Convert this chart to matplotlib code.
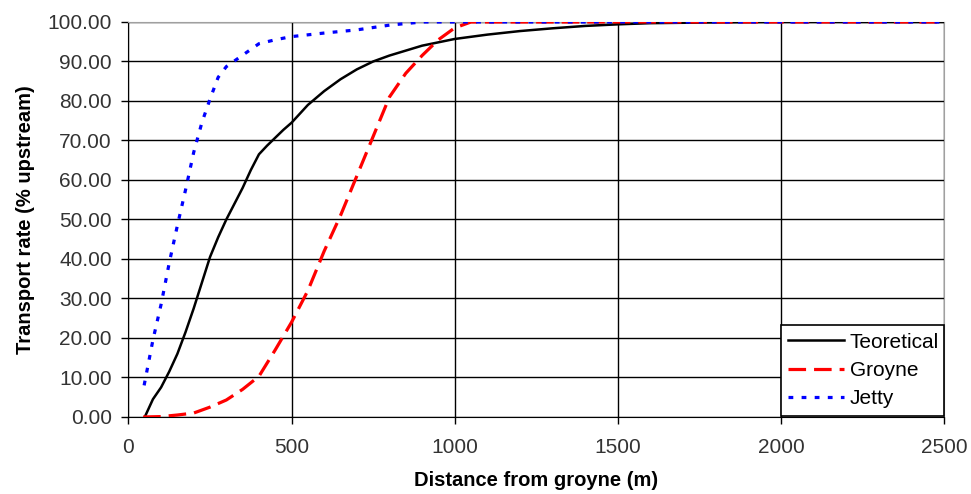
import numpy as np
import matplotlib.pyplot as plt

# data
theo_x = [50, 75, 100, 125, 150, 175, 200, 225, 250, 275, 300, 325, 350, 375, 400, 425,
          450, 475, 500, 550, 600, 650, 700, 750, 800, 900, 1000, 1100, 1200, 1300,
          1400, 1500, 1600, 1800, 2000, 2500]
theo_y = [0, 4.5, 7.5, 11.5, 16, 21.5, 27.5, 34, 40.5, 45.5, 50, 54, 58, 62.5, 66.5, 68.7,
          70.7, 72.7, 74.5, 79, 82.5, 85.5, 88, 90, 91.5, 94, 95.7, 96.8, 97.7, 98.4,
          99, 99.4, 99.7, 99.9, 100, 100]

groyne_x = [45, 100, 150, 200, 250, 300, 350, 400, 450, 500, 550, 600, 650, 700,
            750, 800, 850, 900, 950, 1000, 1050, 2500]
groyne_y = [0, 0.1, 0.5, 1, 2.5, 4.3, 7, 10.3, 17, 24, 32, 42, 51, 61,
            71, 81, 87, 91.5, 95.5, 98.5, 100, 100]

jetty_x = [48, 75, 100, 125, 150, 175, 200, 225, 250, 275, 300, 350, 400, 450,
           500, 600, 700, 800, 900, 2500]
jetty_y = [8, 19.5, 28.5, 39, 48.5, 57.5, 67, 74.5, 80.5, 86, 88.7, 91.6, 94.5, 95.5,
           96.3, 97.2, 98, 99.2, 100, 100]

plt.rcParams['font.family'] = ['Liberation Sans', 'DejaVu Sans']

fig = plt.figure(figsize=(9.71, 4.94), dpi=100)
ax = fig.add_axes([0.1323, 0.1559, 0.8399, 0.7996])

ax.plot(theo_x, theo_y, color='black', lw=1.8, label='Teoretical', zorder=3)
ax.plot(groyne_x, groyne_y, color='red', lw=2.3, dashes=(5.5, 2.5), label='Groyne', zorder=3)
ax.plot(jetty_x, jetty_y, color='blue', lw=2.3, dashes=(1.5, 2.6), label='Jetty', zorder=3)

ax.set_xlim(0, 2500)
ax.set_ylim(0, 100)
ax.set_xticks(np.arange(0, 2501, 500))
ax.set_yticks(np.arange(0, 101, 10))
ax.set_yticklabels([f'{v:.2f}' for v in np.arange(0, 101, 10)])
ax.grid(True, color='black', lw=1)
ax.set_axisbelow(True)

ax.tick_params(labelsize=15, labelcolor='#333333', length=5, direction='out', width=1)
ax.tick_params(axis='x', pad=10)
ax.tick_params(axis='y', pad=7)
for s in ['top', 'right']:
    ax.spines[s].set_color('#a0a0a0')
for s in ['left', 'bottom']:
    ax.spines[s].set_color('black')

ax.set_xlabel('Distance from groyne (m)', fontsize=14.5, fontweight='bold', labelpad=10)
ax.set_ylabel('Transport rate (% upstream)', fontsize=14.5, fontweight='bold', labelpad=9)

leg = ax.legend(loc='center', bbox_to_anchor=(0.8, 0.0, 0.2, 0.235), mode='expand',
                fontsize=15, frameon=True, fancybox=False, borderaxespad=0,
                handlelength=2.7, labelspacing=0.45, borderpad=0.35, handletextpad=0.25)
leg.get_frame().set_edgecolor('black')
leg.get_frame().set_linewidth(1.2)
leg.get_frame().set_alpha(1)

fig.savefig('out.png', dpi=100)
